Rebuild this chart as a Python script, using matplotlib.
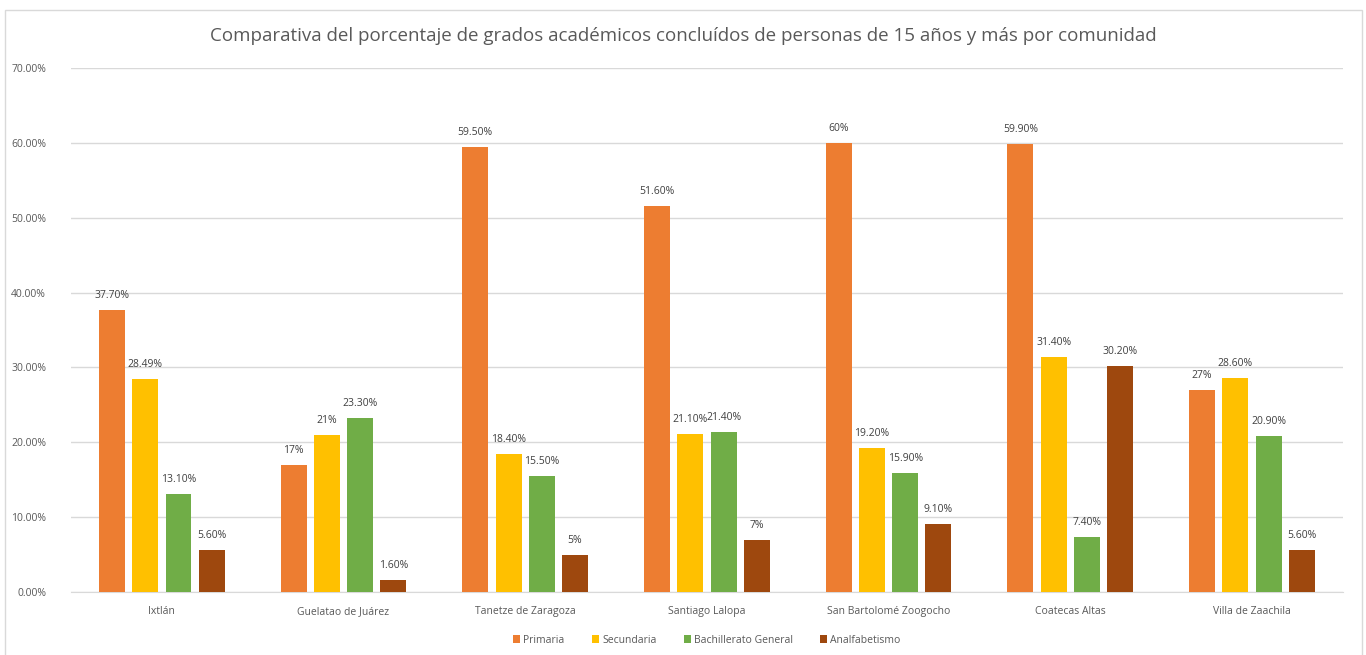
import numpy as np
import matplotlib.pyplot as plt
from matplotlib.patches import Rectangle

plt.rcParams['font.family'] = ['Open Sans', 'DejaVu Sans']

comunidades = ['Ixtlán', 'Guelatao de Juárez', 'Tanetze de Zaragoza', 'Santiago Lalopa',
               'San Bartolomé Zoogocho', 'Coatecas Altas', 'Villa de Zaachila']
series = ['Primaria', 'Secundaria', 'Bachillerato General', 'Analfabetismo']

primaria = [37.70, 17, 59.50, 51.60, 60, 59.90, 27]
secundaria = [28.49, 21, 18.40, 21.10, 19.20, 31.40, 28.60]
bachillerato = [13.10, 23.30, 15.50, 21.40, 15.90, 7.40, 20.90]
analfabetismo = [5.60, 1.60, 5, 7, 9.10, 30.20, 5.60]

colores = ['#ED7D31', '#FFC000', '#70AD47', '#9E480E']
valores = [primaria, secundaria, bachillerato, analfabetismo]


def etiqueta(v):
    if float(v).is_integer():
        return '%d%%' % v
    return '%.2f%%' % v


fig = plt.figure(figsize=(13.66, 6.55), dpi=100)
ax = fig.add_axes([0.052, 0.0962, 0.931, 0.8])

x = np.arange(len(comunidades))
paso = 0.183
ancho = 0.143
for i, (vals, col, nombre) in enumerate(zip(valores, colores, series)):
    pos = x + (i - 1.5) * paso
    ax.bar(pos, vals, width=ancho, color=col, label=nombre, zorder=3)
    for p, v in zip(pos, vals):
        ax.text(p, v + 1.2, etiqueta(v), ha='center', va='bottom',
                fontsize=7.5, color='#404040')

ax.set_xlim(-0.5, len(comunidades) - 0.5)
ax.set_ylim(0, 70)
ax.set_yticks(np.arange(0, 71, 10))
ax.set_yticklabels(['%.2f%%' % t for t in np.arange(0, 71, 10)])
ax.set_xticks(x)
ax.set_xticklabels(comunidades)
ax.tick_params(axis='both', length=0, labelsize=7.5, labelcolor='#595959')
ax.tick_params(axis='x', pad=10)
ax.tick_params(axis='y', pad=18)
ax.grid(axis='y', color='#D9D9D9', linewidth=1, zorder=0)
for s in ['top', 'right', 'left']:
    ax.spines[s].set_visible(False)
ax.spines['bottom'].set_color('#D9D9D9')

fig.text(0.5, 0.945, 'Comparativa del porcentaje de grados académicos concluídos de personas de 15 años y más por comunidad',
         ha='center', va='center', fontsize=13.5, color='#595959')

ax.legend(loc='center', bbox_to_anchor=(0.5, -0.092), ncol=4, frameon=False,
          fontsize=7.5, handlelength=0.7, handleheight=0.7, handletextpad=0.3,
          columnspacing=2.6, labelcolor='#595959')

fig.patches.append(Rectangle((5 / 1366, -0.01), 1357 / 1366, 1 - 10 / 655 + 0.01,
                             transform=fig.transFigure, fill=False,
                             edgecolor='#D9D9D9', linewidth=1))

fig.savefig('out.png', dpi=100, facecolor='white')
